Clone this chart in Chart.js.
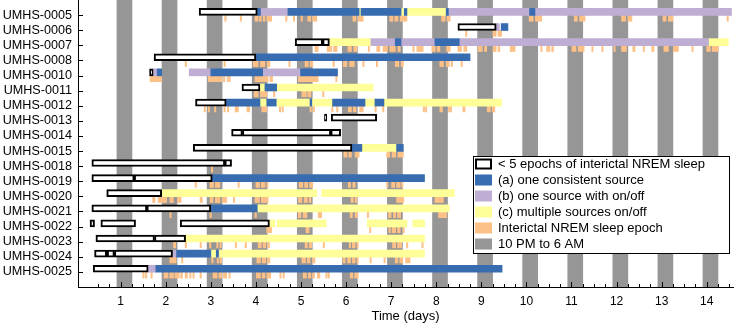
<!DOCTYPE html>
<html>
<head>
<meta charset="utf-8">
<script src="https://cdn.jsdelivr.net/npm/chart.js@4"></script>
<style>
  html, body { margin: 0; padding: 0; background: #fff; }
  #wrap { width: 734px; height: 326px; }
</style>
</head>
<body>
<div id="wrap"><canvas id="chart_seizureSources"></canvas></div>
<script>
// rows, top to bottom
const patients = [
  'UMHS-0005', 'UMHS-0006', 'UMHS-0007', 'UMHS-0008', 'UMHS-0010', 'UMHS-0011',
  'UMHS-0012', 'UMHS-0013', 'UMHS-0014', 'UMHS-0015', 'UMHS-0018', 'UMHS-0019',
  'UMHS-0020', 'UMHS-0021', 'UMHS-0022', 'UMHS-0023', 'UMHS-0024', 'UMHS-0025'
];
const dayTicks = [1, 2, 3, 4, 5, 6, 7, 8, 9, 10, 11, 12, 13, 14];

// 10 PM to 6 AM, in days
const nightBands = [
  [0.917, 1.25], [1.917, 2.25], [2.917, 3.25], [3.917, 4.25], [4.917, 5.25],
  [5.917, 6.25], [6.917, 7.25], [7.917, 8.25], [8.917, 9.25], [9.917, 10.25],
  [10.917, 11.25], [11.917, 12.25], [12.917, 13.25], [13.917, 14.25]
];

// [patient, start day, end day]
const fewEpochs = [
  ['UMHS-0005', 2.74, 4.03],
  ['UMHS-0006', 8.48, 9.33],
  ['UMHS-0007', 4.87, 5.48], ['UMHS-0007', 5.48, 5.63],
  ['UMHS-0008', 1.74, 4.00],
  ['UMHS-0010', 1.64, 1.72],
  ['UMHS-0011', 3.69, 4.09],
  ['UMHS-0012', 2.66, 3.34],
  ['UMHS-0013', 5.52, 5.57], ['UMHS-0013', 5.67, 6.68],
  ['UMHS-0014', 3.46, 3.70], ['UMHS-0014', 3.70, 5.66], ['UMHS-0014', 5.66, 5.88],
  ['UMHS-0015', 2.61, 6.13],
  ['UMHS-0018', 0.36, 3.31], ['UMHS-0018', 3.31, 3.46],
  ['UMHS-0019', 0.36, 1.30], ['UMHS-0019', 1.30, 3.03],
  ['UMHS-0020', 0.69, 1.91],
  ['UMHS-0021', 0.36, 1.58], ['UMHS-0021', 1.58, 3.00],
  ['UMHS-0022', 0.32, 0.42], ['UMHS-0022', 0.56, 1.33], ['UMHS-0022', 2.32, 4.30],
  ['UMHS-0023', 0.45, 1.75], ['UMHS-0023', 1.75, 2.44],
  ['UMHS-0024', 0.42, 0.69], ['UMHS-0024', 0.70, 0.86], ['UMHS-0024', 0.86, 2.15],
  ['UMHS-0025', 0.39, 1.61]
];

const oneSource = [
  ['UMHS-0005', 4.03, 4.10], ['UMHS-0005', 4.71, 6.29], ['UMHS-0005', 6.33, 7.22],
  ['UMHS-0005', 7.29, 7.35], ['UMHS-0005', 8.22, 8.27], ['UMHS-0005', 10.07, 10.19],
  ['UMHS-0006', 9.44, 9.59],
  ['UMHS-0007', 7.09, 7.22], ['UMHS-0007', 7.97, 8.51],
  ['UMHS-0008', 4.00, 8.75],
  ['UMHS-0010', 1.81, 1.91], ['UMHS-0010', 3.00, 4.15], ['UMHS-0010', 4.99, 5.81],
  ['UMHS-0011', 4.20, 4.46],
  ['UMHS-0012', 3.34, 4.09], ['UMHS-0012', 4.24, 4.45], ['UMHS-0012', 5.20, 5.24],
  ['UMHS-0012', 5.70, 6.42], ['UMHS-0012', 6.64, 6.84],
  ['UMHS-0015', 6.13, 6.35], ['UMHS-0015', 7.12, 7.27],
  ['UMHS-0019', 3.03, 7.74],
  ['UMHS-0021', 3.00, 4.03],
  ['UMHS-0024', 2.24, 3.00], ['UMHS-0024', 3.12, 3.17],
  ['UMHS-0025', 1.78, 9.46]
];

const onOffSource = [
  ['UMHS-0005', 4.10, 4.71], ['UMHS-0005', 8.27, 10.07], ['UMHS-0005', 10.19, 14.55],
  ['UMHS-0006', 9.33, 9.40],
  ['UMHS-0007', 6.55, 7.09], ['UMHS-0007', 7.22, 7.97], ['UMHS-0007', 8.51, 14.04],
  ['UMHS-0010', 1.72, 1.81], ['UMHS-0010', 2.52, 3.00], ['UMHS-0010', 4.15, 4.99],
  ['UMHS-0024', 2.15, 2.24],
  ['UMHS-0025', 1.61, 1.78]
];

const multiSource = [
  ['UMHS-0005', 6.29, 6.33], ['UMHS-0005', 7.22, 7.29], ['UMHS-0005', 7.35, 8.22],
  ['UMHS-0007', 5.63, 6.55], ['UMHS-0007', 14.04, 14.48],
  ['UMHS-0011', 4.09, 4.20], ['UMHS-0011', 4.46, 6.60],
  ['UMHS-0012', 4.09, 4.24], ['UMHS-0012', 4.45, 5.20], ['UMHS-0012', 5.24, 5.70],
  ['UMHS-0012', 6.42, 6.64], ['UMHS-0012', 6.84, 9.45],
  ['UMHS-0015', 6.35, 7.12],
  ['UMHS-0020', 1.91, 5.35], ['UMHS-0020', 5.46, 8.40],
  ['UMHS-0021', 4.03, 8.29],
  ['UMHS-0022', 4.30, 4.42], ['UMHS-0022', 4.47, 5.56], ['UMHS-0022', 6.47, 7.35],
  ['UMHS-0022', 7.48, 7.74],
  ['UMHS-0023', 2.44, 7.74],
  ['UMHS-0024', 3.00, 3.12], ['UMHS-0024', 3.17, 7.74]
];

// interictal NREM sleep epochs, one list per row (same order as patients)
const sleepEpochs = [
  /* 0005 */ [[3.31,3.34],[3.65,3.68],[3.98,4.05],[4.08,4.12],[4.16,4.20],[4.24,4.35],[4.66,4.69],[4.83,4.86],[5.00,5.03],[5.15,5.22],[5.26,5.35],[6.15,6.22],[6.27,6.38],[6.97,7.04],[7.08,7.15],[7.20,7.35],[8.12,8.20],[8.24,8.31],[10.06,10.15],[10.20,10.34],[11.06,11.13],[11.18,11.30],[12.11,12.20],[12.25,12.34],[13.03,13.10],[13.15,13.25],[14.45,14.48]],
  /* 0006 */ [[8.65,8.68],[9.26,9.33],[9.37,9.45]],
  /* 0007 */ [[5.31,5.38],[5.58,5.68],[5.72,5.80],[6.04,6.12],[6.17,6.24],[6.49,6.52],[6.68,6.75],[6.82,6.92],[6.97,7.09],[7.15,7.20],[7.48,7.51],[7.57,7.71],[7.90,7.98],[8.02,8.08],[8.23,8.31],[8.48,8.56],[8.61,8.68],[8.93,9.02],[9.07,9.12],[9.26,9.33],[9.37,9.41],[9.64,9.75],[10.32,10.35],[10.45,10.52],[10.56,10.60],[11.01,11.10],[11.15,11.28],[11.45,11.48],[11.67,11.70],[11.94,11.97],[12.11,12.22],[12.36,12.41],[12.59,12.62],[12.78,12.83],[13.05,13.15],[13.26,13.37],[13.67,13.70],[14.00,14.08],[14.12,14.26]],
  /* 0008 */ [[2.43,2.46],[3.29,3.32],[3.94,4.05],[4.10,4.20],[4.25,4.31],[4.73,4.76],[5.09,5.16],[5.20,5.26],[5.71,5.74],[5.94,6.02],[6.08,6.18],[6.37,6.40],[6.67,6.70],[7.09,7.17],[7.22,7.27],[8.08,8.16],[8.22,8.29],[8.33,8.36],[8.55,8.58]],
  /* 0010 */ [[1.65,1.91],[2.94,3.24],[3.28,3.31],[3.36,3.39],[3.41,3.43],[3.98,4.27],[4.31,4.37],[4.94,5.38],[5.77,5.80]],
  /* 0011 */ [[3.96,4.05],[4.10,4.24],[4.39,4.42],[5.02,5.12],[5.15,5.22],[5.48,5.51]],
  /* 0012 */ [[2.85,2.88],[2.94,2.97],[3.08,3.11],[3.29,3.32],[3.37,3.40],[3.54,3.61],[3.80,3.86],[4.13,4.24],[4.52,4.55],[4.58,4.61],[5.20,5.23],[5.27,5.30],[5.68,5.71],[5.79,5.82],[6.05,6.12],[6.16,6.22],[6.30,6.38],[6.64,6.67],[6.81,6.84],[7.71,7.74],[7.76,7.79],[8.08,8.14],[8.27,8.34],[8.59,8.64],[9.13,9.20],[9.24,9.30]],
  /* 0013 */ [],
  /* 0014 */ [],
  /* 0015 */ [[5.95,6.02],[6.06,6.12],[6.20,6.29],[6.90,6.97],[7.02,7.10],[7.15,7.27]],
  /* 0018 */ [[3.01,3.04]],
  /* 0019 */ [[2.65,2.68],[2.98,3.06],[3.10,3.20],[3.60,3.63],[4.00,4.08],[4.12,4.20],[4.24,4.27],[4.96,5.04],[5.08,5.15],[5.19,5.26],[6.05,6.10],[6.15,6.20],[6.90,6.93],[7.01,7.08],[7.12,7.20],[7.23,7.26]],
  /* 0020 */ [[1.71,1.76],[1.83,2.02],[2.09,2.17],[2.26,2.34],[2.76,2.81],[2.98,3.05],[3.10,3.20],[3.25,3.35],[3.50,3.53],[3.98,4.08],[4.12,4.27],[4.94,5.02],[5.07,5.14],[5.18,5.22],[6.11,6.16],[6.20,6.24],[7.12,7.28],[7.97,8.16]],
  /* 0021 */ [[2.09,2.12],[2.98,3.01],[3.98,4.01],[4.94,5.00],[5.05,5.13],[5.38,5.46],[6.09,6.14],[6.20,6.25],[6.47,6.50],[6.94,7.00],[7.05,7.10],[7.14,7.21],[8.05,8.23]],
  /* 0022 */ [[4.24,4.35],[5.11,5.18],[6.52,6.55],[6.95,6.98],[7.02,7.10],[7.14,7.20],[7.26,7.29]],
  /* 0023 */ [[2.17,2.22],[2.43,2.46],[2.76,2.79],[2.97,3.00],[3.13,3.16],[3.20,3.23],[3.54,3.57],[3.76,3.79],[4.05,4.12],[4.16,4.22],[4.26,4.30],[5.09,5.14],[5.18,5.24],[5.49,5.52],[6.07,6.10],[6.14,6.20],[6.24,6.27],[7.03,7.10],[7.14,7.23],[7.34,7.37],[7.68,7.71]],
  /* 0024 */ [[2.09,2.23],[2.35,2.38],[3.02,3.05],[3.14,3.17],[3.20,3.24],[4.02,4.10],[4.14,4.22],[4.26,4.31],[5.02,5.10],[5.14,5.20],[5.26,5.31],[5.93,5.98],[6.03,6.10],[6.14,6.20],[6.24,6.27],[6.53,6.56],[6.84,6.87],[7.09,7.15],[7.19,7.26],[7.32,7.42]],
  /* 0025 */ [[1.49,1.52],[1.55,1.58],[1.67,1.70],[1.96,2.05],[2.09,2.17],[2.20,2.30],[2.33,2.37],[2.43,2.48],[2.53,2.56],[2.60,2.63],[2.76,2.79],[3.05,3.14],[3.18,3.24],[3.28,3.35],[3.40,3.43],[4.01,4.10],[4.14,4.20],[4.24,4.33],[4.53,4.56],[4.60,4.63],[5.05,5.12],[5.16,5.22],[5.26,5.30],[5.36,5.42],[5.55,5.58],[5.60,5.63],[6.09,6.15],[6.19,6.27]]
];

const colBlue = '#386cb0', colPurple = '#beaed4', colYellow = '#ffff99',
      colOrange = '#fdc086', colNight = '#969696';

const BAR_SHIFT = -0.21, SLEEP_SHIFT = 0.21;

function toBars(list) {
  return list.map(([p, a, b]) => ({ x: [a, b], y: patients.indexOf(p) + BAR_SHIFT }));
}
const sleepBars = [];
sleepEpochs.forEach((row, i) => row.forEach(([a, b]) => sleepBars.push({ x: [a, b], y: i + SLEEP_SHIFT })));

Chart.defaults.font.family = '"Liberation Sans", Arial, Helvetica, sans-serif';
Chart.defaults.color = '#000';

const commonBar = { grouped: false, borderWidth: 0, borderSkipped: false, xAxisID: 'x' };

// inward tick marks, matlab style
const innerTicks = {
  id: 'innerTicks',
  afterDatasetsDraw(chart) {
    const ctx = chart.ctx, a = chart.chartArea;
    const xs = chart.scales.x, ys = chart.scales.y;
    ctx.save();
    ctx.strokeStyle = '#000';
    ctx.lineWidth = 1;
    ctx.beginPath();
    patients.forEach((p, i) => {
      const y = Math.round(ys.getPixelForValue(i)) + 0.5;
      ctx.moveTo(a.left, y); ctx.lineTo(a.left + 5, y);
    });
    for (let v = 0.5; v < xs.max; v += 0.25) {
      const x = Math.round(xs.getPixelForValue(v)) + 0.5;
      const len = Number.isInteger(v) ? 5 : 3;
      ctx.moveTo(x, a.bottom); ctx.lineTo(x, a.bottom - len);
    }
    ctx.stroke();
    ctx.restore();
  }
};

const legendOrder = [0, 1, 2, 3, 4, 5];
const boxLegend = {
  id: 'boxLegend',
  afterDraw(chart) {
    const ctx = chart.ctx, a = chart.chartArea;
    const x0 = a.right - 260, y0 = 156, w = 256, h = 97;
    ctx.save();
    ctx.fillStyle = '#fff';
    ctx.fillRect(x0, y0, w, h);
    ctx.strokeStyle = '#000';
    ctx.lineWidth = 1;
    ctx.strokeRect(x0 + 0.5, y0 + 0.5, w, h);
    ctx.font = '13px "Liberation Sans", Arial, sans-serif';
    ctx.textBaseline = 'middle';
    legendOrder.forEach((di, i) => {
      const ds = chart.data.datasets[di];
      const cy = y0 + 8 + i * 16;
      const sx = x0 + 2, sw = 17, sh = 11;
      ctx.fillStyle = ds.backgroundColor;
      ctx.fillRect(sx, cy - sh / 2, sw, sh);
      if (ds.borderWidth) {
        ctx.strokeStyle = ds.borderColor;
        ctx.lineWidth = 2;
        ctx.strokeRect(sx + 1, cy - sh / 2 + 1, sw - 2, sh - 2);
      }
      ctx.fillStyle = '#000';
      ctx.fillText(ds.label, x0 + 25, cy + 0.5);
    });
    ctx.restore();
  }
};

var chart_seizureSources = new Chart(document.getElementById('chart_seizureSources'), {
  type: 'bar',
  data: {
    datasets: [
      Object.assign({}, commonBar, {
        label: '< 5 epochs of interictal NREM sleep', yAxisID: 'y', order: 1,
        data: toBars(fewEpochs), backgroundColor: '#ffffff', borderColor: '#000000',
        borderWidth: 2, barThickness: 7
      }),
      Object.assign({}, commonBar, {
        label: '(a) one consistent source', yAxisID: 'y', order: 2,
        data: toBars(oneSource), backgroundColor: colBlue, barThickness: 7
      }),
      Object.assign({}, commonBar, {
        label: '(b) one source with on/off', yAxisID: 'y', order: 3,
        data: toBars(onOffSource), backgroundColor: colPurple, barThickness: 7
      }),
      Object.assign({}, commonBar, {
        label: '(c) multiple sources on/off', yAxisID: 'y', order: 4,
        data: toBars(multiSource), backgroundColor: colYellow, barThickness: 7
      }),
      Object.assign({}, commonBar, {
        label: 'Interictal NREM sleep epoch', yAxisID: 'y', order: 5,
        data: sleepBars, backgroundColor: colOrange, barThickness: 6
      }),
      Object.assign({}, commonBar, {
        label: '10 PM to 6 AM', yAxisID: 'yN', order: 10,
        data: nightBands.map(([a, b]) => ({ x: [a, b], y: 'night' })),
        backgroundColor: colNight, barPercentage: 1, categoryPercentage: 1
      })
    ]
  },
  options: {
    indexAxis: 'y',
    animation: false,
    responsive: true,
    maintainAspectRatio: false,
    events: [],
    layout: { padding: { left: 0, right: 1, top: 0, bottom: 0 } },
    plugins: {
      legend: { display: false },
      tooltip: { enabled: false }
    },
    scales: {
      x: {
        type: 'linear',
        position: 'bottom',
        min: 0.053,
        max: 14.583,
        offset: false,
        grid: { display: false, drawTicks: false },
        border: { display: true, color: '#000', width: 1 },
        afterBuildTicks: (s) => { s.ticks = dayTicks.map(v => ({ value: v })); },
        afterFit: (s) => { s.height = 39; s.paddingLeft = 0; s.paddingRight = 0; },
        ticks: { font: { size: 12 }, color: '#000', padding: 7, maxRotation: 0, autoSkip: false },
        title: { display: true, text: 'Time (days)', font: { size: 13 }, color: '#000', padding: { top: 0, bottom: 2 } }
      },
      y: {
        type: 'linear',
        position: 'left',
        min: -1,
        max: 18,
        reverse: true,
        offset: false,
        grid: { display: false, drawTicks: false, offset: false },
        border: { display: true, color: '#000', width: 1 },
        afterBuildTicks: (s) => { s.ticks = patients.map((p, i) => ({ value: i })); },
        afterFit: (s) => { s.width = 78; s.paddingTop = 0; s.paddingBottom = 0; },
        ticks: { callback: (v) => patients[v], font: { size: 12.6 }, color: '#000', padding: 6, autoSkip: false }
      },
      yN: {
        type: 'category',
        axis: 'y',
        labels: ['night'],
        offset: true,
        display: false
      }
    }
  },
  plugins: [innerTicks, boxLegend]
});
</script>
</body>
</html>
